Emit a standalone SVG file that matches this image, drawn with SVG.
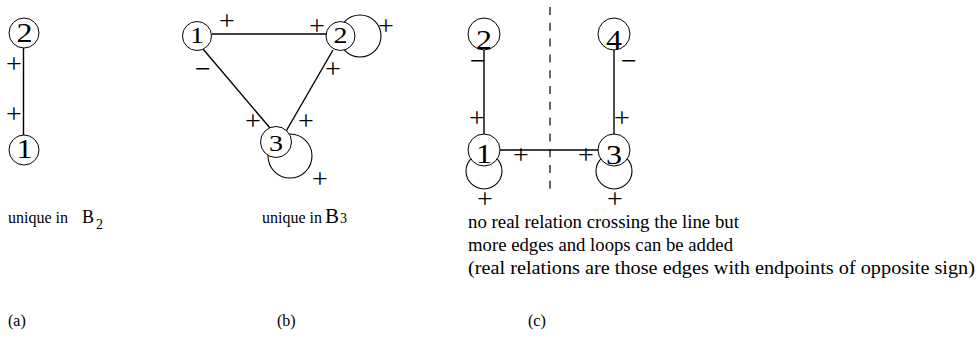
<svg xmlns="http://www.w3.org/2000/svg" width="978" height="339" viewBox="0 0 978 339">
<style>
text { font-family: "Liberation Serif", "Times New Roman", serif; fill: #000; }
.node { fill: #fff; stroke: #000; stroke-width: 1; }
.loop { fill: none; stroke: #000; stroke-width: 1.1; }
.edge { stroke: #000; stroke-width: 1.4; fill: none; }
.dash { stroke: #000; stroke-width: 1.2; stroke-dasharray: 8 7.8; fill: none; }
.dg { font-size: 27px; text-anchor: middle; }
.dgb { font-size: 24px; text-anchor: middle; }
.sg { font-size: 28px; text-anchor: middle; }
.cap { font-size: 16px; }
.capc { font-size: 19px; }
</style>
<rect width="978" height="339" fill="#fff"/>
<g id="connectors">
  <line class="edge" x1="23.5" y1="48" x2="23.5" y2="135"/>
  <line class="edge" x1="212" y1="34" x2="326" y2="34"/>
  <line class="edge" x1="203" y1="49" x2="270" y2="128"/>
  <line class="edge" x1="333" y1="50" x2="285" y2="133"/>
  <circle class="loop" cx="360" cy="36" r="21"/>
  <circle class="loop" cx="290" cy="156" r="22"/>
  <line class="edge" x1="484" y1="49" x2="484" y2="134"/>
  <line class="edge" x1="614" y1="49" x2="614" y2="134"/>
  <line class="edge" x1="500" y1="150" x2="598" y2="150"/>
  <circle class="loop" cx="484" cy="171" r="18"/>
  <circle class="loop" cx="614" cy="171" r="18"/>
  <line class="dash" x1="550" y1="7" x2="550" y2="189"/>
</g>
<g id="a-node2"><circle class="node" cx="24" cy="33" r="15"/><text class="dg" x="24.5" y="42" textLength="16" lengthAdjust="spacingAndGlyphs">2</text></g>
<g id="a-node1"><circle class="node" cx="24" cy="150" r="15"/><text class="dg" x="24.5" y="158" textLength="16" lengthAdjust="spacingAndGlyphs">1</text></g>
<g id="b-node1"><circle class="node" cx="197" cy="36" r="14.5"/><text class="dgb" x="197" y="43" textLength="14" lengthAdjust="spacingAndGlyphs">1</text></g>
<g id="b-node2"><circle class="node" cx="340.5" cy="36" r="14.5"/><text class="dgb" x="340.5" y="43" textLength="14" lengthAdjust="spacingAndGlyphs">2</text></g>
<g id="b-node3"><circle class="node" cx="276" cy="142" r="15.5"/><text class="dgb" x="276" y="151" textLength="14" lengthAdjust="spacingAndGlyphs">3</text></g>
<g id="c-node2"><circle class="node" cx="484" cy="34" r="16"/><text class="dg" x="484" y="49" textLength="16" lengthAdjust="spacingAndGlyphs">2</text></g>
<g id="c-node4"><circle class="node" cx="614" cy="34" r="16"/><text class="dg" x="614" y="49" textLength="16" lengthAdjust="spacingAndGlyphs">4</text></g>
<g id="c-node1"><circle class="node" cx="484" cy="150" r="16"/><text class="dg" x="484" y="163" textLength="16" lengthAdjust="spacingAndGlyphs">1</text></g>
<g id="c-node3"><circle class="node" cx="614" cy="150" r="16"/><text class="dg" x="614" y="164" textLength="16" lengthAdjust="spacingAndGlyphs">3</text></g>
<g id="signs">
  <text class="sg" x="14" y="73">+</text>
  <text class="sg" x="14" y="123">+</text>
  <text class="sg" x="227" y="30">+</text>
  <text class="sg" x="317" y="35">+</text>
  <text class="sg" x="386" y="35">+</text>
  <text class="sg" x="203" y="78">−</text>
  <text class="sg" x="333" y="78">+</text>
  <text class="sg" x="253" y="130">+</text>
  <text class="sg" x="306" y="130">+</text>
  <text class="sg" x="320" y="188">+</text>
  <text class="sg" x="478" y="70">−</text>
  <text class="sg" x="477" y="127">+</text>
  <text class="sg" x="521" y="164">+</text>
  <text class="sg" x="629" y="70">−</text>
  <text class="sg" x="622" y="127">+</text>
  <text class="sg" x="586" y="164">+</text>
  <text class="sg" x="485" y="208">+</text>
  <text class="sg" x="615" y="208">+</text>
</g>
<g id="captions">
  <text class="cap" x="8" y="223">unique in <tspan x="82" font-size="18">B</tspan><tspan x="96" y="229" font-size="14">2</tspan></text>
  <text class="cap" x="262" y="223">unique in <tspan x="325" font-size="21">B</tspan><tspan x="340" font-size="14">3</tspan></text>
  <text class="capc" x="468" y="228" textLength="271" lengthAdjust="spacingAndGlyphs">no real relation crossing the line but</text>
  <text class="capc" x="468" y="251" textLength="265" lengthAdjust="spacingAndGlyphs">more edges and loops can be added</text>
  <text class="capc" x="468" y="274" textLength="507" lengthAdjust="spacingAndGlyphs">(real relations are those edges with endpoints of opposite sign)</text>
  <text class="cap" x="8" y="326">(a)</text>
  <text class="cap" x="277" y="326">(b)</text>
  <text class="cap" x="528" y="326">(c)</text>
</g>
</svg>
